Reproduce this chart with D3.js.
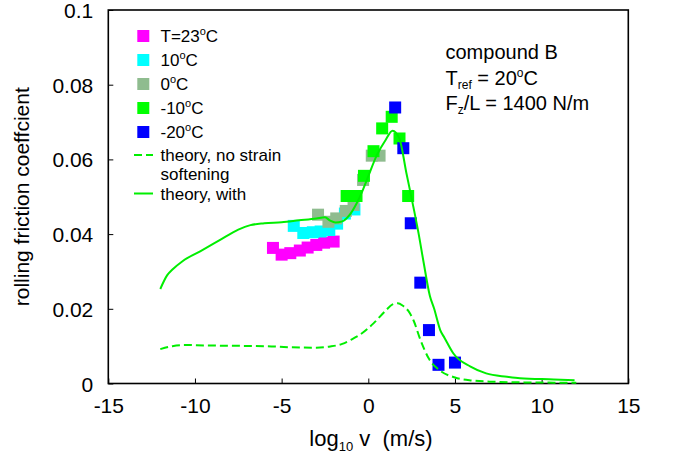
<!DOCTYPE html>
<html><head><meta charset="utf-8">
<script src="https://cdn.jsdelivr.net/npm/d3@7"></script>
<style>
html,body{margin:0;padding:0;background:#fff;}
svg{display:block;font-family:"Liberation Sans",Arial,sans-serif;}
</style></head>
<body><svg id="chart" width="676" height="454"></svg>
<script>
// ---- data ----
const xTicks = [-15,-10,-5,0,5,10,15];
const xTickLabels = ["-15","-10","-5","0","5","10","15"];
const yTicks = [0,0.02,0.04,0.06,0.08,0.1];
const yTickLabels = ["0","0.02","0.04","0.06","0.08","0.1"];

const seriesNames = ["T=23°C","10°C","0°C","-10°C","-20°C"];
const seriesColors = ["#ff00ff","#00ffff","#8fbc8f","#00ff00","#0000ff"];

const v23 = [-5.5,-5.0,-4.5,-3.95,-3.5,-3.0,-2.55,-2.0];
const c23 = [0.0363,0.0345,0.0349,0.0356,0.0364,0.0371,0.0377,0.0380];
const v10 = [-4.3,-3.75,-3.2,-2.75,-2.25,-1.8,-1.35,-0.8];
const c10 = [0.0422,0.0403,0.0405,0.0407,0.0411,0.0428,0.0455,0.0466];
const v0 = [-2.9,-2.3,-1.85,-1.3,-0.85,-0.3,0.2,0.65];
const c0 = [0.0452,0.0433,0.0442,0.0462,0.0478,0.0545,0.0610,0.0610];
const vm10 = [-1.25,-0.68,-0.25,0.3,0.8,1.35,1.8,2.3];
const cm10 = [0.0502,0.0502,0.0556,0.0622,0.0683,0.0714,0.0656,0.0502];
const vm20 = [1.55,2.02,2.45,3.0,3.5,4.05,5.0];
const cm20 = [0.0739,0.0630,0.0429,0.0270,0.0143,0.0050,0.0056];

const vTheory = [-12,-11.6,-11.3,-10.7,-9.7,-8.6,-7.5,-6.8,-6.0,-5.0,-4.0,-3.0,-2.5,-2.2,-1.9,-1.5,-1.1,-0.7,-0.3,0.0,0.5,1.0,1.4,1.8,2.2,2.6,2.9,3.2,3.55,3.8,4.15,4.4,4.9,5.9,6.8,8.0,8.75,10.7,11.9];
const cTheory = [0.0253,0.0290,0.0305,0.0328,0.0354,0.0383,0.0412,0.0424,0.0429,0.0432,0.0437,0.0442,0.0445,0.0436,0.0431,0.0434,0.0450,0.0480,0.0520,0.0555,0.0612,0.0652,0.0677,0.0655,0.0563,0.0473,0.0402,0.0322,0.0235,0.0200,0.0143,0.0122,0.0081,0.0045,0.0027,0.0018,0.0014,0.0011,0.0009];
const vNoSoft = [-12,-11.3,-10.5,-9.5,-8,-6,-4.5,-3,-2.2,-1.5,-1.0,-0.5,0.3,1.0,1.4,1.7,2.0,2.3,2.6,3.0,3.5,4.1,5.0,6.0,7.0,9.0,12];
const cNoSoft = [0.0092,0.0100,0.0103,0.0102,0.0101,0.0100,0.0097,0.0096,0.0099,0.0106,0.0117,0.0130,0.0161,0.0195,0.0212,0.0215,0.0208,0.0195,0.0170,0.0118,0.0066,0.0036,0.0016,0.0008,0.0005,0.0003,0.0002];

// ---- layout ----
const svg = d3.select("#chart");
const L = 108.3, R = 628.3, T = 10, B = 383.5;
const x = d3.scaleLinear().domain([-15,15]).range([L,R]);
const y = d3.scaleLinear().domain([0,0.1]).range([B,T]);
const lineColor = "#00ee00";

// frame
svg.append("rect").attr("x",L).attr("y",T).attr("width",R-L).attr("height",B-T)
  .attr("fill","none").attr("stroke","#000").attr("stroke-width",1.6);

// axes (ticks inward)
const xAxis = d3.axisBottom(x).tickValues(xTicks).tickSize(-5).tickPadding(15).tickFormat((d,i)=>xTickLabels[i]);
const gx = svg.append("g").attr("transform",`translate(0,${B})`).call(xAxis);
gx.select(".domain").remove();
gx.selectAll("text").attr("font-size",21).attr("font-family","Liberation Sans, Arial, sans-serif").attr("fill","#000");
gx.selectAll("line").attr("stroke","#000");

const yAxis = d3.axisLeft(y).tickValues(yTicks).tickSize(-5).tickPadding(15).tickFormat((d,i)=>yTickLabels[i]);
const gy = svg.append("g").attr("transform",`translate(${L},0)`).call(yAxis);
gy.select(".domain").remove();
gy.selectAll("text").attr("font-size",21).attr("font-family","Liberation Sans, Arial, sans-serif").attr("fill","#000").attr("dy","0.36em");
gy.selectAll("line").attr("stroke","#000");

// markers
const sets = [[v23,c23],[v10,c10],[v0,c0],[vm10,cm10],[vm20,cm20]];
const S = 12;
sets.forEach((s,k)=>{
  const pts = s[0].map((v,i)=>[v,s[1][i]]);
  svg.append("g").selectAll("rect").data(pts).join("rect")
    .attr("x",d=>x(d[0])-S/2).attr("y",d=>y(d[1])-S/2)
    .attr("width",S).attr("height",S).attr("fill",seriesColors[k]);
});

// theory lines
const lineGen = d3.line().x(d=>x(d[0])).y(d=>y(d[1])).curve(d3.curveMonotoneX);
svg.append("path").datum(vNoSoft.map((v,i)=>[v,cNoSoft[i]])).attr("d",lineGen)
  .attr("fill","none").attr("stroke",lineColor).attr("stroke-width",2).attr("stroke-dasharray","8,4");
svg.append("path").datum(vTheory.map((v,i)=>[v,cTheory[i]])).attr("d",lineGen)
  .attr("fill","none").attr("stroke",lineColor).attr("stroke-width",2);

// legend
const lg = svg.append("g").attr("font-size",17).attr("fill","#000");
const rowY = [36,60,84,108,132];
seriesNames.forEach((n,i)=>{
  lg.append("rect").attr("x",137.3).attr("y",rowY[i]-6).attr("width",12).attr("height",12).attr("fill",seriesColors[i]);
  const t = lg.append("text").attr("x",160.5).attr("y",rowY[i]+6);
  const m = n.match(/^(.*)°(C)$/);
  t.append("tspan").text(m[1]);
  t.append("tspan").attr("font-size",11).attr("dy",-7).text("o");
  t.append("tspan").attr("dy",7).text(m[2]);
});
lg.append("line").attr("x1",134).attr("x2",153).attr("y1",155).attr("y2",155)
  .attr("stroke",lineColor).attr("stroke-width",2).attr("stroke-dasharray","8,4");
lg.append("text").attr("x",160.5).attr("y",161).text("theory, no strain");
lg.append("text").attr("x",160.5).attr("y",180).text("softening");
lg.append("line").attr("x1",134).attr("x2",153).attr("y1",193.5).attr("y2",193.5)
  .attr("stroke",lineColor).attr("stroke-width",2);
lg.append("text").attr("x",160.5).attr("y",200).text("theory, with");

// annotation
const an = svg.append("g").attr("font-size",20).attr("fill","#000");
an.append("text").attr("x",445.5).attr("y",59).text("compound B");
const t2 = an.append("text").attr("x",445.5).attr("y",84.5);
t2.append("tspan").text("T");
t2.append("tspan").attr("font-size",12).attr("dy",4).text("ref");
t2.append("tspan").attr("dy",-4).text(" = 20");
t2.append("tspan").attr("font-size",12).attr("dy",-8).text("o");
t2.append("tspan").attr("dy",8).text("C");
const t3 = an.append("text").attr("x",445.5).attr("y",110);
t3.append("tspan").text("F");
t3.append("tspan").attr("font-size",12).attr("dy",4).text("z");
t3.append("tspan").attr("dy",-4).text("/L = 1400 N/m");

// axis titles
const xt = svg.append("text").attr("x",371).attr("y",446).attr("text-anchor","middle").attr("font-size",22).attr("fill","#000");
xt.append("tspan").text("log");
xt.append("tspan").attr("font-size",13).attr("dy",5).text("10");
xt.append("tspan").attr("dy",-5).text(" v\u00a0 (m/s)");

svg.append("text").attr("transform",`translate(29,${(T+B)/2}) rotate(-90)`)
  .attr("text-anchor","middle").attr("font-size",21).attr("fill","#000")
  .text("rolling friction coeffcient");
</script>
</body></html>
